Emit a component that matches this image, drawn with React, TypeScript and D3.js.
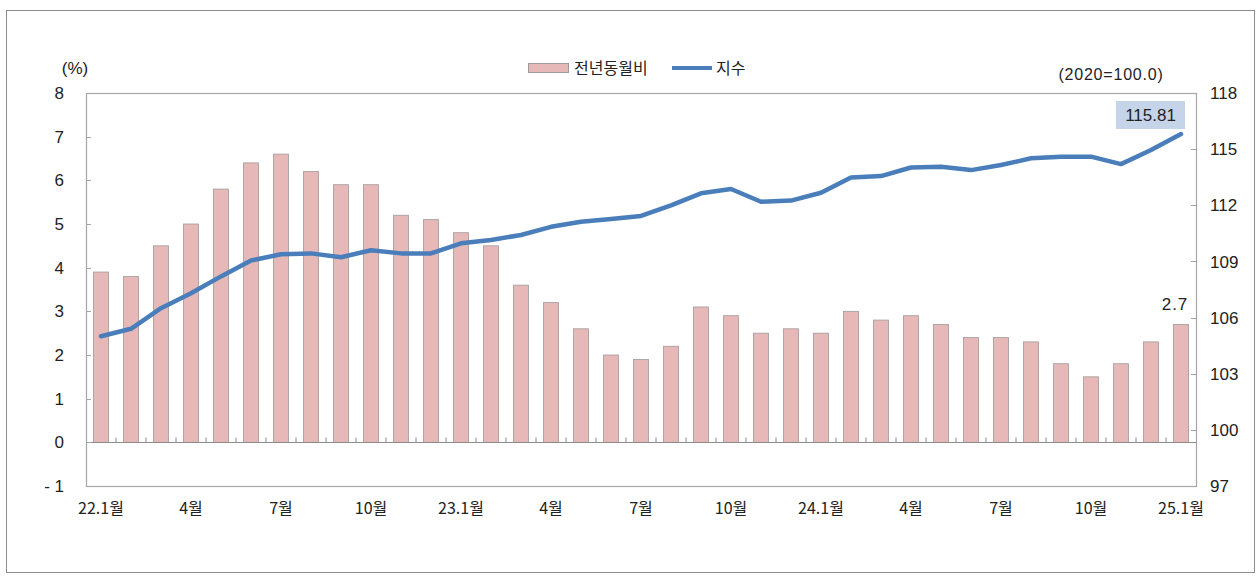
import React, { useEffect, useRef } from 'react'
import * as d3 from 'd3'

// 전년동월비 (%) and 지수 (2020=100.0), 22.1 ~ 25.1
const months = [
  '22.1', '22.2', '22.3', '22.4', '22.5', '22.6', '22.7', '22.8', '22.9', '22.10', '22.11', '22.12',
  '23.1', '23.2', '23.3', '23.4', '23.5', '23.6', '23.7', '23.8', '23.9', '23.10', '23.11', '23.12',
  '24.1', '24.2', '24.3', '24.4', '24.5', '24.6', '24.7', '24.8', '24.9', '24.10', '24.11', '24.12',
  '25.1',
]
const yoy = [
  3.9, 3.8, 4.5, 5.0, 5.8, 6.4, 6.6, 6.2, 5.9, 5.9, 5.2, 5.1,
  4.8, 4.5, 3.6, 3.2, 2.6, 2.0, 1.9, 2.2, 3.1, 2.9, 2.5, 2.6,
  2.5, 3.0, 2.8, 2.9, 2.7, 2.4, 2.4, 2.3, 1.8, 1.5, 1.8, 2.3,
  2.7,
]
const index = [
  105.0, 105.4, 106.5, 107.3, 108.2, 109.05, 109.38, 109.43, 109.22, 109.6, 109.43, 109.43,
  109.97, 110.15, 110.41, 110.85, 111.12, 111.27, 111.43, 112.0, 112.64, 112.87, 112.19, 112.25,
  112.67, 113.49, 113.56, 114.02, 114.06, 113.88, 114.15, 114.51, 114.6, 114.6, 114.2, 114.95,
  115.81,
]
const xLabels: Record<string, string> = {
  '22.1': '22.1월', '22.4': '4월', '22.7': '7월', '22.10': '10월',
  '23.1': '23.1월', '23.4': '4월', '23.7': '7월', '23.10': '10월',
  '24.1': '24.1월', '24.4': '4월', '24.7': '7월', '24.10': '10월',
  '25.1': '25.1월',
}
const leftTicks = [-1, 0, 1, 2, 3, 4, 5, 6, 7, 8]
const rightTicks = [97, 100, 103, 106, 109, 112, 115, 118]

const W = 1257
const H = 577
const FONT = '"Liberation Sans", "Noto Sans CJK KR", sans-serif'
const KFONT = '"Noto Sans CJK KR", "Liberation Sans", sans-serif'

function App() {
  const ref = useRef<SVGSVGElement>(null)

  useEffect(() => {
    const svg = d3.select(ref.current)
    svg.selectAll('*').remove()

    const plot = { left: 86, right: 1196, top: 93, bottom: 486 }

    const x = d3.scaleBand().domain(months).range([plot.left, plot.right]).paddingInner(0.5).paddingOuter(0.25)
    const yL = d3.scaleLinear().domain([-1, 8]).range([plot.bottom, plot.top])
    const yR = d3.scaleLinear().domain([97, 118]).range([plot.bottom, plot.top])
    const cx = (m: string) => (x(m) as number) + x.bandwidth() / 2

    // outer border
    svg.append('rect').attr('x', 6.5).attr('y', 10.5).attr('width', 1248).attr('height', 562)
      .attr('fill', 'white').attr('stroke', '#8c8c8c').attr('stroke-width', 1)

    // plot frame
    svg.append('rect').attr('x', plot.left + 0.5).attr('y', plot.top + 0.5)
      .attr('width', plot.right - plot.left).attr('height', plot.bottom - plot.top)
      .attr('fill', 'none').attr('stroke', '#a6a6a6').attr('stroke-width', 1.2)

    // bars
    svg.append('g').selectAll('rect').data(yoy).join('rect')
      .attr('x', (d, i) => x(months[i]) as number)
      .attr('y', d => yL(d))
      .attr('width', x.bandwidth())
      .attr('height', d => yL(0) - yL(d))
      .attr('fill', '#e6b9b8').attr('stroke', '#a09a9a').attr('stroke-width', 0.8)

    // zero line + category ticks
    const y0 = Math.round(yL(0)) + 0.5
    svg.append('line').attr('x1', plot.left).attr('x2', plot.right).attr('y1', y0).attr('y2', y0)
      .attr('stroke', '#8c8c8c').attr('stroke-width', 1.2)
    svg.append('g').selectAll('line').data(months.slice(1)).join('line')
      .attr('x1', d => (x(d) as number) - x.step() * 0.25).attr('x2', d => (x(d) as number) - x.step() * 0.25)
      .attr('y1', y0).attr('y2', y0 - 5)
      .attr('stroke', '#8c8c8c')

    // left axis
    const gl = svg.append('g')
    gl.selectAll('line').data(leftTicks).join('line')
      .attr('x1', plot.left).attr('x2', plot.left + 5)
      .attr('y1', d => Math.round(yL(d)) + 0.5).attr('y2', d => Math.round(yL(d)) + 0.5)
      .attr('stroke', '#a6a6a6')
    gl.selectAll('text').data(leftTicks).join('text')
      .attr('x', 64).attr('y', d => yL(d)).attr('dy', '0.36em')
      .attr('text-anchor', 'end').attr('font-size', 17).attr('font-family', FONT).attr('fill', '#222')
      .text(d => (d < 0 ? '- ' + Math.abs(d) : String(d)))

    // right axis
    const gr = svg.append('g')
    gr.selectAll('line').data(rightTicks).join('line')
      .attr('x1', plot.right - 5).attr('x2', plot.right)
      .attr('y1', d => Math.round(yR(d)) + 0.5).attr('y2', d => Math.round(yR(d)) + 0.5)
      .attr('stroke', '#a6a6a6')
    gr.selectAll('text').data(rightTicks).join('text')
      .attr('x', 1210).attr('y', d => yR(d)).attr('dy', '0.36em')
      .attr('text-anchor', 'start').attr('font-size', 17).attr('font-family', FONT).attr('fill', '#222')
      .text(d => String(d))

    // x labels
    svg.append('g').selectAll('text').data(months.filter(m => xLabels[m])).join('text')
      .attr('x', d => cx(d)).attr('y', 514)
      .attr('text-anchor', 'middle').attr('font-size', 16).attr('font-family', KFONT).attr('fill', '#222')
      .text(d => xLabels[d])

    // index line
    const line = d3.line<number>().x((d, i) => cx(months[i])).y(d => yR(d))
    svg.append('path').datum(index).attr('d', line)
      .attr('fill', 'none').attr('stroke', '#4a7ebb').attr('stroke-width', 4.5)
      .attr('stroke-linejoin', 'round').attr('stroke-linecap', 'round')

    // labels for last point
    const last = months.length - 1
    const lx = cx(months[last])
    svg.append('text').attr('x', lx - 6).attr('y', yL(yoy[last]) - 14)
      .attr('text-anchor', 'middle').attr('font-size', 17).attr('font-family', FONT).attr('fill', '#222')
      .attr('letter-spacing', 1).text(String(yoy[last]))
    const by = yR(index[last])
    svg.append('rect').attr('x', lx - 65).attr('y', by - 33).attr('width', 69).attr('height', 28)
      .attr('fill', '#c6d4ea')
    svg.append('text').attr('x', lx - 30.5).attr('y', by - 19).attr('dy', '0.36em')
      .attr('text-anchor', 'middle').attr('font-size', 17).attr('font-family', FONT).attr('fill', '#222')
      .text(index[last].toFixed(2))

    // unit labels
    svg.append('text').attr('x', 75).attr('y', 68).attr('dy', '0.36em').attr('text-anchor', 'middle')
      .attr('font-size', 17).attr('font-family', FONT).attr('fill', '#222').text('(%)')
    svg.append('text').attr('x', 1111).attr('y', 74).attr('dy', '0.36em').attr('text-anchor', 'middle')
      .attr('font-size', 16).attr('font-family', FONT).attr('fill', '#222').attr('letter-spacing', 0.8)
      .text('(2020=100.0)')

    // legend
    const lg = svg.append('g')
    lg.append('rect').attr('x', 528.5).attr('y', 63.5).attr('width', 40).attr('height', 9)
      .attr('fill', '#e6b9b8').attr('stroke', '#a09a9a')
    lg.append('text').attr('x', 574).attr('y', 68).attr('dy', '0.36em')
      .attr('font-size', 16).attr('font-family', KFONT).attr('fill', '#222').text('전년동월비')
    lg.append('line').attr('x1', 672).attr('x2', 712).attr('y1', 68).attr('y2', 68)
      .attr('stroke', '#4a7ebb').attr('stroke-width', 4)
    lg.append('text').attr('x', 716).attr('y', 68).attr('dy', '0.36em')
      .attr('font-size', 16).attr('font-family', KFONT).attr('fill', '#222').text('지수')
  }, [])

  return (
    <svg ref={ref} width={W} height={H} style={{ position: 'absolute', left: 0, top: 0, background: 'white' }} />
  )
}

export default App
